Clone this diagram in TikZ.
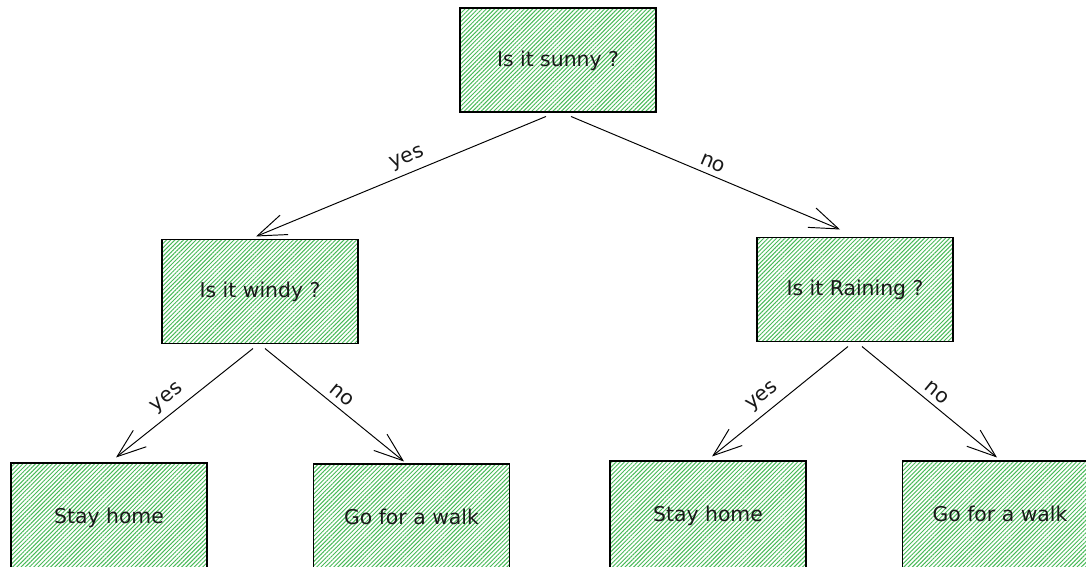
\documentclass[tikz,border=0pt]{standalone}
\usepackage{fontspec}
\setmainfont{DejaVu Sans}
\usetikzlibrary{calc,arrows.meta,patterns.meta}
\definecolor{hachure}{RGB}{72,186,88}

\begin{document}
\begin{tikzpicture}[x=0.02cm,y=-0.02cm]
    % Arbre de décision

    %
    % Définitions
    %
    \pgfmathsetmacro{\lb}{3.92};%
    \pgfmathsetmacro{\hb}{2.08};%
    \pgfmathsetmacro{\hbb}{2.16};%

    %
    % Styles
    %
    \tikzset{boite/.style={draw=black,line width=0.6pt,fill=white,%
        pattern={Lines[angle=45,distance=1.7pt,line width=0.55pt]},%
        pattern color=hachure,minimum width=\lb cm,minimum height=\hb cm,%
        inner sep=0pt,text height=0.73em,text depth=0pt,%
        font=\fontsize{11.6}{14}\selectfont,text=black!90}};%
    \tikzset{fleche/.style={-{Straight Barb[length=0.58cm,width=0.42cm,line width=0.55pt]},line width=0.55pt}};%
    \tikzset{etiq/.style={above,sloped,font=\fontsize{11.6}{14}\selectfont,text=black!90}};%

    % Cadre
    \useasboundingbox (0,0) rectangle (1086,567);%
    \clip (0,0) rectangle (1086,567);%

    %
    % Dessin
    %
    % Questions
    \node[boite] (sunny) at (558,60) {Is it sunny ?};%
    \node[boite] (windy) at (260,291.5) {Is it windy ?};%
    \node[boite] (raining) at (855,289.5) {Is it Raining ?};%

    % Décisions
    \node[boite,minimum height=\hbb cm] (home1) at (109,517) {Stay home};%
    \node[boite,minimum height=\hbb cm] (walk1) at (411.5,518) {Go for a walk};%
    \node[boite,minimum height=\hbb cm] (home2) at (708,515) {Stay home};%
    \node[boite,minimum height=\hbb cm] (walk2) at (1000,515) {Go for a walk};%

    % Flèches
    \draw[fleche] ($(sunny.south)+(-12,4)$) %
    -- node[etiq,pos=0.46]{yes} ($(windy.north)+(-4,-2.5)$);%
    \draw[fleche] ($(sunny.south)+(13,4)$) %
    -- node[etiq,pos=0.51]{no} ($(raining.north)+(-15,-7.5)$);%
    \draw[fleche] ($(windy.south)+(-7,4.5)$) %
    -- node[etiq,pos=0.56]{yes} ($(home1.north)+(7,-5)$);%
    \draw[fleche] ($(windy.south)+(5,4.5)$) %
    -- node[etiq,pos=0.5]{no} ($(walk1.north)+(-7.5,-2)$);%
    \draw[fleche] ($(raining.south)+(-7,4.5)$) %
    -- node[etiq,pos=0.56]{yes} ($(home2.north)+(4,-4)$);%
    \draw[fleche] ($(raining.south)+(7,4.5)$) %
    -- node[etiq,pos=0.5]{no} ($(walk2.north)+(-3,-3)$);%

\end{tikzpicture}
\end{document}
